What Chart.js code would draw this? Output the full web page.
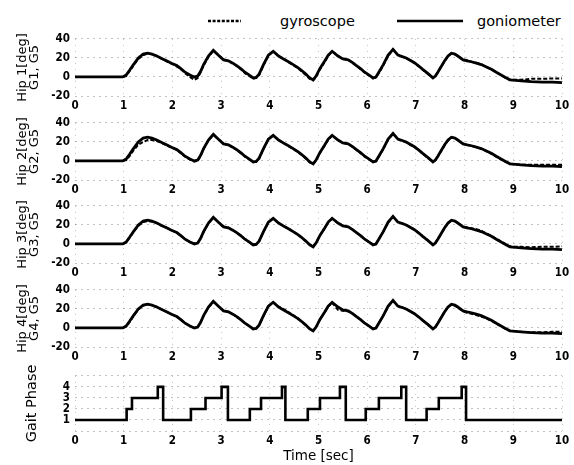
<!DOCTYPE html>
<html><head><meta charset="utf-8">
<script src="https://cdn.jsdelivr.net/npm/chart.js@4"></script>
<style>
html,body{margin:0;padding:0;background:#fff;}
#wrap{position:relative;width:574px;height:465px;overflow:hidden;background:#fff;}
.pane{position:absolute;left:0;}
.leg{position:absolute;font-family:'DejaVu Sans',sans-serif;font-size:14.5px;color:#000;line-height:1;white-space:nowrap;}
</style></head><body>
<div id="wrap">
  <svg style="position:absolute;left:0;top:0" width="574" height="40">
    <line x1="208" y1="21" x2="241" y2="21" stroke="#000" stroke-width="2.5" stroke-dasharray="3 1.6"/>
    <line x1="397" y1="21" x2="463" y2="21" stroke="#000" stroke-width="2.5"/>
  </svg>
  <div class="leg" style="left:280px;top:14px">gyroscope</div>
  <div class="leg" style="left:477px;top:14px">goniometer</div>
  <canvas class="pane" id="c1" width="574" height="91" style="top:27px"></canvas>
  <canvas class="pane" id="c2" width="574" height="91" style="top:111px"></canvas>
  <canvas class="pane" id="c3" width="574" height="91" style="top:194px"></canvas>
  <canvas class="pane" id="c4" width="574" height="91" style="top:278px"></canvas>
  <canvas class="pane" id="c5" width="574" height="101" style="top:364px"></canvas>
</div>
<script>
// ---- data ----
const timeSec = [0,0.5,0.98,1.05,1.12,1.2,1.3,1.4,1.49,1.58,
  1.68,1.78,1.88,1.98,2.09,2.18,2.26,2.36,2.45,2.52,
  2.58,2.64,2.74,2.84,2.94,3.05,3.15,3.24,3.32,3.41,
  3.49,3.58,3.66,3.72,3.78,3.87,3.97,4.07,4.18,4.31,
  4.4,4.48,4.57,4.65,4.74,4.82,4.89,4.95,5.03,5.13,
  5.2,5.28,5.4,5.5,5.61,5.7,5.78,5.87,5.95,6.04,
  6.12,6.18,6.25,6.33,6.43,6.53,6.63,6.72,6.8,6.9,
  6.97,7.06,7.14,7.25,7.35,7.4,7.45,7.52,7.59,7.66,
  7.73,7.8,7.86,7.97,8.05,8.14,8.24,8.34,8.45,8.55,
  8.65,8.75,8.84,8.93,9.05,9.16,9.37,9.6,9.8,10];

const goniometer = [0,0,0,2,7,13,20,24,25,24,
  22,19.5,17,14.5,12,8.5,5,2,0,1,
  6,13,22,28,23,18,17,14.5,12,8.5,
  5,2,-1,-0.5,3,13,23,27,22,18,
  15.5,13,10,7,3,-1,-3,1,9,17,
  23,27,22,19,18,15,12,8.5,5,2,
  -1,0,6,13,23,29,23,21.5,20,17,
  15,11.5,8,3.5,-1,1,5,11,17,22,
  25,24,22,18,17,16,14.5,13,10.5,8,
  5,2,-0.5,-3,-3.5,-4,-5,-5.5,-5.5,-6];

const gyro1 = [0,0,0,1,6,12,19,23,24.5,24,
  22,19,16.5,14,11,8,4,0,-3,-1,
  5,12,21,27.5,23,18.5,17,14,11.5,8,
  4,1,-2,-1,2,12,22,27,22,18.5,
  15,12.5,9.5,6,2,-2,-3.5,0,8,16,
  22,27,22,19.5,18,15,11.5,8,4.5,1.5,
  -1.5,-0.5,5,12,22,29,23.5,21,20,17,
  14.5,11,7.5,3,-1,1,5,11,16.5,21.5,
  25,24,22,18.5,17.5,16,15,13.5,10.5,8,
  5,2,-1,-3,-3,-3,-2,-2,-1.5,-1.5];

const gyro2 = [0,0,0,1,5,11,17,20,22,22,
  21,19,16.5,14,11.5,8,4.5,1.5,-0.5,0,
  5.5,12.5,21.5,27.5,23,18,17,14,11.5,8,
  4.5,1.5,-1,-1,2.5,12.5,22.5,26.5,22,18,
  15,12.5,9.5,6.5,2.5,-1.5,-3,0.5,8.5,16.5,
  22.5,26.5,22,19,18,14.5,11.5,8,4.5,1.5,
  -1,-0.5,5.5,12.5,22.5,28.5,23,21,19.5,16.5,
  14.5,11,7.5,3,-1,1,4.5,10.5,16.5,21.5,
  24.5,24,22,18,17,16,14.5,13,10,7.5,
  4.5,1.5,-1,-3,-3.5,-4,-4,-4,-4,-4];

const gyro3 = [0,0,0,1.5,6.5,12.5,19,23,24,23.5,
  22,19,17,14.5,12,8.5,5,2,0.5,1,
  6,12.5,21.5,27.5,23,18.5,17,14.5,12,8.5,
  5,2,-0.5,0,3,12.5,22.5,26.5,22,18,
  15.5,13,10,7,3,-0.5,-2,1.5,9,16.5,
  22.5,26.5,22,19.5,18,15,12,8.5,5,2,
  -0.5,0.5,6,13,22.5,28.5,23,21.5,20,17,
  15,11.5,8,3.5,-0.5,1.5,5,11,17,21.5,
  24.5,24,22,18.5,17.5,16.5,15.5,14,11,8.5,
  5.5,2.5,0,-2.5,-3,-3,-3.5,-3,-3,-2.5];

const gyro4 = [0,0,0,1.5,6,12.5,19.5,23.5,24.5,24,
  22,19.5,17,14.5,12,8.5,5,2,0,1,
  6,13,21.5,27.5,23,18,17,14.5,12,8.5,
  5,2,-1,-0.5,3,12.5,22.5,27,22.5,19,
  16,13.5,10.5,7,3,-1,-3,1,9,16.5,
  22.5,26.5,19,18,17.5,15,12,8.5,5,2,
  -1,0,6,13,22.5,28.5,23,21.5,20,17,
  15,11.5,8,3.5,-1,1,5,11,17,22,
  24.5,23.5,21.5,17.5,16,15,13.5,12,10,7.5,
  4.5,1.5,-1,-3,-3.5,-4,-4.5,-4.5,-4,-4];

const phaseTime  = [0,1.06,1.17,1.70,1.81,2.38,2.68,3.01,3.14,3.59,3.82,4.25,4.32,
  4.78,5.03,5.44,5.56,5.97,6.24,6.70,6.80,7.22,7.47,7.94,8.03,10];
const phaseValue = [1,2,3,4,1,2,3,4,1,2,3,4,1,2,3,4,1,2,3,4,1,2,3,4,1,1];

const hipTitles = [['Hip 1[deg]','G1, G5'],['Hip 2[deg]','G2, G5'],['Hip 3[deg]','G3, G5'],['Hip 4[deg]','G4, G5']];
const phaseTickLabels = ['1','2','3','4'];
const legendLabels = ['gyroscope','goniometer'];

// ---- drawing ----
function pts(xs, ys){ return xs.map((x,i)=>({x:x, y:ys[i]})); }
const tickFont = {family:"'DejaVu Sans Condensed',sans-serif", size:11.5, weight:'bold'};
const gridCol = 'rgba(0,0,0,0.3)';

function xScale(withTitle){
  return {
    type:'linear', min:0, max:10,
    ticks:{stepSize:1, color:'#000', font:tickFont, padding:3, maxRotation:0, autoSkip:false},
    grid:{color:gridCol, lineWidth:0.8, drawTicks:false},
    border:{display:false, dash:[1,5]},
    title: withTitle ? {display:true, text:'Time [sec]', color:'#000',
      font:{family:"'DejaVu Sans',sans-serif", size:13.5, lineHeight:1}, padding:{top:0,bottom:1.5}} : {display:false},
    afterFit(s){ s.height = withTitle ? 34 : 22; }
  };
}

function baseOptions(){
  return {
    responsive:false, animation:false, devicePixelRatio:1,
    layout:{padding:{top:8, right:12, left:0, bottom:0}},
    plugins:{legend:{display:false}, tooltip:{enabled:false}},
    elements:{point:{radius:0}, line:{tension:0}}
  };
}

function makeHip(id, gyro, title){
  const opts = baseOptions();
  opts.scales = {
    x: xScale(false),
    y: {
      min:-20, max:40,
      ticks:{stepSize:20, color:'#000', font:tickFont, padding:5, autoSkip:false},
      grid:{color:gridCol, lineWidth:0.8, drawTicks:false},
      border:{display:false, dash:[2,4]},
      title:{display:true, text:title, color:'#000',
        font:{family:"'DejaVu Sans',sans-serif", size:13, lineHeight:0.92}, padding:{top:16.5,bottom:0}},
      afterFit(s){ s.width = 75; }
    }
  };
  new Chart(document.getElementById(id), {
    type:'line',
    data:{datasets:[
      {label:legendLabels[0], data:pts(timeSec, gyro), borderColor:'#000', borderWidth:2, borderDash:[4,2], pointRadius:0, fill:false},
      {label:legendLabels[1], data:pts(timeSec, goniometer), borderColor:'#000', borderWidth:2.8, pointRadius:0, fill:false}
    ]},
    options:opts
  });
}

makeHip('c1', gyro1, hipTitles[0]);
makeHip('c2', gyro2, hipTitles[1]);
makeHip('c3', gyro3, hipTitles[2]);
makeHip('c4', gyro4, hipTitles[3]);

(function(){
  const opts = baseOptions();
  opts.scales = {
    x: xScale(true),
    y: {
      min:0, max:5,
      ticks:{stepSize:1, color:'#000', font:tickFont, padding:5, autoSkip:false,
        callback:(v)=> (v>=1 && v<=4) ? phaseTickLabels[v-1] : ''},
      grid:{color:gridCol, lineWidth:0.8, drawTicks:false},
      border:{display:false, dash:[2,4]},
      title:{display:true, text:'Gait Phase', color:'#000',
        font:{family:"'DejaVu Sans',sans-serif", size:14.5, lineHeight:1.2}, padding:{top:24,bottom:0}},
      afterFit(s){ s.width = 75; }
    }
  };
  new Chart(document.getElementById('c5'), {
    type:'line',
    data:{datasets:[
      {label:'Gait Phase', data:pts(phaseTime, phaseValue), stepped:true, borderColor:'#000', borderWidth:2.6, pointRadius:0, fill:false}
    ]},
    options:opts
  });
})();
</script>
</body></html>
